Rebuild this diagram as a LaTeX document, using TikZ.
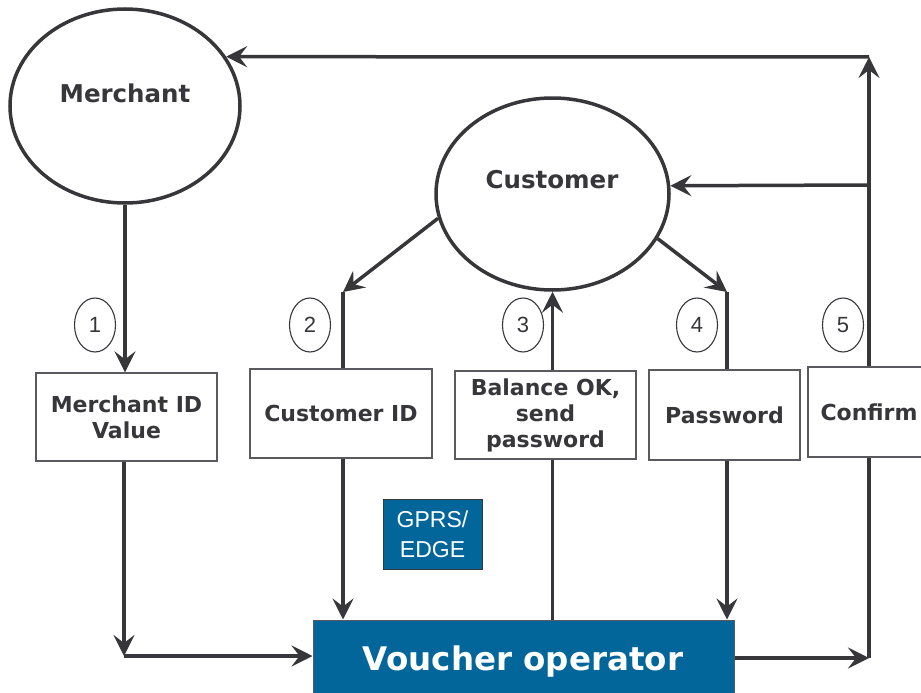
\documentclass[tikz,border=0pt]{standalone}
\usepackage{fontspec}
\setmainfont{DejaVu Sans}
\newfontfamily\arialf{Liberation Sans}
\usetikzlibrary{shapes.geometric,arrows.meta}
\definecolor{ink}{HTML}{36363B}
\definecolor{boxline}{HTML}{5A5A5E}
\definecolor{vblue}{HTML}{03669A}
\tikzset{
  conn/.style={draw=ink,line width=3.5pt},
  arr/.style={conn,-{Stealth[length=21pt,width=21pt,inset=8pt]}},
  actor/.style={ellipse,draw=ink,line width=3.5pt,fill=white,inner sep=0pt},
  actortext/.style={font=\bfseries\fontsize{24.5}{28}\selectfont,text=ink},
  msgbox/.style={rectangle,draw=boxline,line width=1.3pt,fill=white,inner sep=0pt,
    align=center,font=\bfseries\fontsize{22}{26}\selectfont,text=ink},
  numcirc/.style={ellipse,draw=ink,line width=1.1pt,minimum width=41pt,minimum height=54pt,
    inner sep=0pt,font=\arialf\fontsize{22}{26}\selectfont,text=ink},
}
\begin{document}
\begin{tikzpicture}[x=1pt,y=-1pt]
\useasboundingbox (0,0) rectangle (921,693);
% actors
\node[actor,minimum width=230pt,minimum height=194pt] (m) at (125,106) {};
\node[actortext] (mt) at (125,93) {Merchant};
\node[actor,minimum width=233pt,minimum height=192pt] (c) at (552.5,194) {};
\node[actortext] (ct) at (552,180) {Customer};
% coordinates
\coordinate (tr) at (869,57);
\coordinate (cbr) at (869,185);
\coordinate (br) at (869,658);
\coordinate (t2) at (343,292);
\coordinate (t4) at (727,292);
\coordinate (ca) at (124,656);
% voucher operator
\node[rectangle,draw=boxline,line width=1pt,fill=vblue,minimum width=421pt,minimum height=76pt,inner sep=0pt] (v) at (523.5,658) {};
\node[anchor=base,text=white,font=\bfseries\fontsize{32.5}{36}\selectfont] (vt) at (523,670) {Voucher operator};
% GPRS
\node[rectangle,draw=ink,line width=0.8pt,fill=vblue,minimum width=99pt,minimum height=70pt,inner sep=0pt,
  align=center,text=white,font=\arialf\fontsize{23}{30}\selectfont] (g) at (432.5,534) {GPRS/\\EDGE};
% message boxes
\node[msgbox,minimum width=181pt,minimum height=88pt] (mid) at (126.5,417) {Merchant ID\\Value};
\node[msgbox,minimum width=182pt,minimum height=89pt] (cid) at (341,413.5) {Customer ID};
\node[msgbox,minimum width=181pt,minimum height=88pt] (bal) at (545.5,415) {Balance OK,\\send\\password};
\node[msgbox,minimum width=151pt,minimum height=90pt] (pw) at (724.5,415) {Password};
\node[msgbox,minimum width=122pt,minimum height=90pt] (conf) at (869,412) {Confirm};
% numbers
\node[numcirc] (n1) at (95,325) {1};
\node[numcirc] (n2) at (310,325) {2};
\node[numcirc] (n3) at (523,325) {3};
\node[numcirc] (n4) at (697,325) {4};
\node[numcirc] (n5) at (843,325) {5};
% connectors: merchant
\draw[arr] (m.south) -- (mid.north -| m.south);
\draw[arr] (mid.south -| ca) -- (ca);
\draw[arr] (ca) -- (v.west |- ca);
% customer id
\draw[arr] (c.192) -- (t2);
\draw[conn] (t2) -- (cid.north -| t2);
\draw[arr] (cid.south -| t2) -- (v.north -| t2);
% balance
\draw[conn] (v.north -| c.south) -- (bal.south -| c.south);
\draw[arr] (bal.north -| c.south) -- (c.south);
% password
\draw[arr] (c.337.6) -- (t4);
\draw[conn] (t4) -- (pw.north -| t4);
\draw[arr] (pw.south -| t4) -- (v.north -| t4);
% confirm
\draw[arr] (v.east |- br) -- (br);
\draw[conn] (br) -- (conf.south -| br);
\draw[arr] (conf.north -| br) -- (tr);
\draw[arr] (tr) -- (m.26.3);
\draw[arr] (cbr) -- (c.4.4);
\end{tikzpicture}
\end{document}
